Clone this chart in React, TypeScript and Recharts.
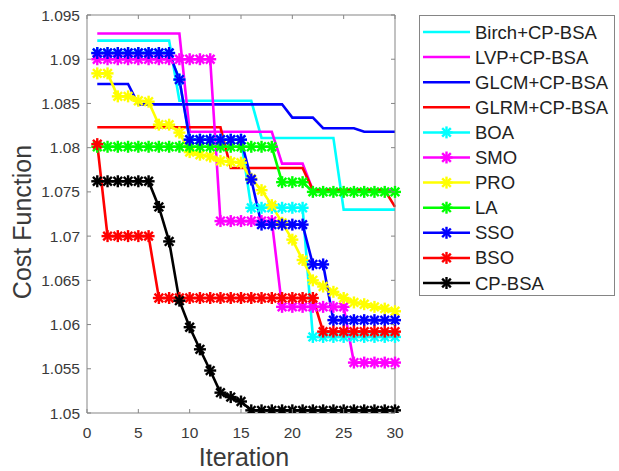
import React from 'react';
import { LineChart, Line, XAxis, YAxis, Label } from 'recharts';

const iterations = [1, 2, 3, 4, 5, 6, 7, 8, 9, 10, 11, 12, 13, 14, 15, 16, 17, 18, 19, 20, 21, 22, 23, 24, 25, 26, 27, 28, 29, 30];

const birchCPBSA = [1.0921, 1.0921, 1.0921, 1.0921, 1.0921, 1.0921, 1.0921, 1.0921, 1.0853, 1.0853, 1.0853, 1.0853, 1.0853, 1.0853, 1.0853, 1.0853, 1.0811, 1.0811, 1.0811, 1.0811, 1.0811, 1.0811, 1.0811, 1.0811, 1.073, 1.073, 1.073, 1.073, 1.073, 1.073];
const lvpCPBSA = [1.0929, 1.0929, 1.0929, 1.0929, 1.0929, 1.0929, 1.0929, 1.0929, 1.0929, 1.0818, 1.0818, 1.0818, 1.0818, 1.0818, 1.0818, 1.0818, 1.0818, 1.0818, 1.0782, 1.0782, 1.0782, 1.0752, 1.0752, 1.0752, 1.0752, 1.0752, 1.0752, 1.0752, 1.0752, 1.0752];
const glcmCPBSA = [1.0872, 1.0872, 1.0872, 1.0872, 1.0849, 1.0849, 1.0849, 1.0849, 1.0849, 1.0849, 1.0849, 1.0849, 1.0849, 1.0849, 1.0849, 1.0849, 1.0849, 1.0849, 1.0849, 1.0834, 1.0834, 1.0834, 1.0822, 1.0822, 1.0822, 1.0822, 1.0818, 1.0818, 1.0818, 1.0818];
const glrmCPBSA = [1.0823, 1.0823, 1.0823, 1.0823, 1.0823, 1.0823, 1.0823, 1.0823, 1.0823, 1.0823, 1.0823, 1.0823, 1.0823, 1.0777, 1.0777, 1.0777, 1.0777, 1.0777, 1.0777, 1.0777, 1.0777, 1.0752, 1.0752, 1.0752, 1.0752, 1.0752, 1.0752, 1.0752, 1.0752, 1.0733];
const boa = [1.0907, 1.0907, 1.0907, 1.0907, 1.0907, 1.0907, 1.0907, 1.0907, 1.0877, 1.0809, 1.0809, 1.0809, 1.0809, 1.0809, 1.0809, 1.0732, 1.0732, 1.0732, 1.0732, 1.0732, 1.0732, 1.0586, 1.0586, 1.0586, 1.0586, 1.0586, 1.0586, 1.0586, 1.0586, 1.0586];
const smo = [1.09, 1.09, 1.09, 1.09, 1.09, 1.09, 1.09, 1.09, 1.09, 1.09, 1.09, 1.09, 1.0717, 1.0717, 1.0717, 1.0717, 1.0717, 1.0717, 1.062, 1.062, 1.062, 1.062, 1.062, 1.062, 1.062, 1.0557, 1.0557, 1.0557, 1.0557, 1.0557];
const pro = [1.0884, 1.0884, 1.0858, 1.0858, 1.0853, 1.0852, 1.0826, 1.0826, 1.0817, 1.0795, 1.0792, 1.079, 1.0785, 1.0784, 1.0783, 1.0765, 1.0752, 1.0735, 1.0715, 1.0696, 1.0673, 1.065, 1.0643, 1.0637, 1.063, 1.0625, 1.0623, 1.062, 1.0618, 1.0615];
const la = [1.0801, 1.0801, 1.0801, 1.0801, 1.0801, 1.0801, 1.0801, 1.0801, 1.0801, 1.0801, 1.0801, 1.0801, 1.0801, 1.0801, 1.0801, 1.0801, 1.0801, 1.0801, 1.0761, 1.0761, 1.0761, 1.075, 1.075, 1.075, 1.075, 1.075, 1.075, 1.075, 1.075, 1.075];
const sso = [1.0907, 1.0907, 1.0907, 1.0907, 1.0907, 1.0907, 1.0907, 1.0907, 1.0877, 1.0809, 1.0809, 1.0809, 1.0809, 1.0809, 1.0809, 1.0764, 1.0713, 1.0713, 1.0713, 1.0713, 1.0713, 1.0668, 1.0668, 1.0605, 1.0605, 1.0605, 1.0605, 1.0605, 1.0605, 1.0605];
const bso = [1.0804, 1.07, 1.07, 1.07, 1.07, 1.07, 1.063, 1.063, 1.063, 1.063, 1.063, 1.063, 1.063, 1.063, 1.063, 1.063, 1.063, 1.063, 1.063, 1.063, 1.063, 1.063, 1.0592, 1.0592, 1.0592, 1.0592, 1.0592, 1.0592, 1.0592, 1.0592];
const cpBSA = [1.0762, 1.0762, 1.0762, 1.0762, 1.0762, 1.0762, 1.0733, 1.0694, 1.0627, 1.0597, 1.0572, 1.0548, 1.0523, 1.0518, 1.0513, 1.0503, 1.0503, 1.0503, 1.0503, 1.0503, 1.0503, 1.0503, 1.0503, 1.0503, 1.0503, 1.0503, 1.0503, 1.0503, 1.0503, 1.0503];

const seriesNames = ['Birch+CP-BSA', 'LVP+CP-BSA', 'GLCM+CP-BSA', 'GLRM+CP-BSA', 'BOA', 'SMO', 'PRO', 'LA', 'SSO', 'BSO', 'CP-BSA'];
const seriesValues = [birchCPBSA, lvpCPBSA, glcmCPBSA, glrmCPBSA, boa, smo, pro, la, sso, bso, cpBSA];
const seriesColors = ['#00FFFF', '#FF00FF', '#0000FF', '#FF0000', '#00FFFF', '#FF00FF', '#FFFF00', '#00FF00', '#0000FF', '#FF0000', '#000000'];
const seriesMarkers = [false, false, false, false, true, true, true, true, true, true, true];

const xTicks = [0, 5, 10, 15, 20, 25, 30];
const yTicks = [1.05, 1.055, 1.06, 1.065, 1.07, 1.075, 1.08, 1.085, 1.09, 1.095];
const yTickLabels = ['1.05', '1.055', '1.06', '1.065', '1.07', '1.075', '1.08', '1.085', '1.09', '1.095'];

const keys = seriesNames.map((_, i) => 's' + i);
const data = iterations.map((it, idx) => {
  const row: any = { iter: it };
  keys.forEach((k, si) => {
    row[k] = seriesValues[si][idx];
  });
  return row;
});

const FONT = '"Liberation Sans", Arial, Helvetica, sans-serif';
const AXIS = '#858585';
const TEXT = '#3a3a3a';

const Asterisk = ({ cx, cy, color, r = 6, sw = 2.4 }: any) => {
  const d = r * 0.72;
  return (
    <g stroke={color} strokeWidth={sw} strokeLinecap="butt">
      <line x1={cx - r} y1={cy} x2={cx + r} y2={cy} />
      <line x1={cx} y1={cy - r} x2={cx} y2={cy + r} />
      <line x1={cx - d} y1={cy - d} x2={cx + d} y2={cy + d} />
      <line x1={cx - d} y1={cy + d} x2={cx + d} y2={cy - d} />
    </g>
  );
};

const makeDot = (color: string) => (props: any) => {
  const { cx, cy, index } = props;
  if (cx == null || cy == null) return <g key={'d' + index} />;
  return <Asterisk key={'d' + index} cx={cx} cy={cy} color={color} />;
};

const BottomTick = (props: any) => {
  const { x, y, payload } = props;
  return (
    <g>
      <line x1={x} y1={y} x2={x} y2={y - 4} stroke={AXIS} strokeWidth={1} />
      <text x={x} y={y + 19} textAnchor="middle" dominantBaseline="central" fontFamily={FONT} fontSize={15.5} fill={TEXT}>
        {payload.value}
      </text>
    </g>
  );
};

const TopTick = (props: any) => {
  const { x, y } = props;
  return <line x1={x} y1={y} x2={x} y2={y + 4} stroke={AXIS} strokeWidth={1} />;
};

const LeftTick = (props: any) => {
  const { x, y, payload } = props;
  const idx = yTicks.findIndex((t) => Math.abs(t - payload.value) < 1e-9);
  const label = idx >= 0 ? yTickLabels[idx] : String(payload.value);
  return (
    <g>
      <line x1={x} y1={y} x2={x + 4} y2={y} stroke={AXIS} strokeWidth={1} />
      <text x={x - 7} y={y} textAnchor="end" dominantBaseline="central" fontFamily={FONT} fontSize={15.5} fill={TEXT}>
        {label}
      </text>
    </g>
  );
};

const RightTick = (props: any) => {
  const { x, y } = props;
  return <line x1={x} y1={y} x2={x - 4} y2={y} stroke={AXIS} strokeWidth={1} />;
};

const YLabel = (props: any) => {
  const vb = props.viewBox;
  const cx = vb.x + 22;
  const cy = vb.y + vb.height / 2 + 8;
  return (
    <text x={cx} y={cy} transform={`rotate(-90, ${cx}, ${cy})`} textAnchor="middle" dominantBaseline="central" fontFamily={FONT} fontSize={25} fill={TEXT}>
      Cost Function
    </text>
  );
};

const XLabel = (props: any) => {
  const vb = props.viewBox;
  const cx = vb.x + vb.width / 2 + 3;
  const cy = vb.y + 44;
  return (
    <text x={cx} y={cy} textAnchor="middle" dominantBaseline="central" fontFamily={FONT} fontSize={25} fill={TEXT}>
      Iteration
    </text>
  );
};

const LegendBox = () => {
  const rowH = 25.1;
  return (
    <div
      style={{
        position: 'absolute',
        left: 419,
        top: 15,
        width: 196,
        height: 281,
        border: `1px solid ${AXIS}`,
        boxSizing: 'border-box',
        background: '#fff',
      }}
    >
      <svg width={194} height={279} style={{ display: 'block' }}>
        {seriesNames.map((name, i) => {
          const y = 16 + i * rowH;
          return (
            <g key={name}>
              <line x1={3} y1={y} x2={50} y2={y} stroke={seriesColors[i]} strokeWidth={2.5} />
              {seriesMarkers[i] && <Asterisk cx={26.5} cy={y} color={seriesColors[i]} />}
              <text x={55} y={y} dominantBaseline="central" fontFamily={FONT} fontSize={18.5} fill="#222">
                {name}
              </text>
            </g>
          );
        })}
      </svg>
    </div>
  );
};

export default function App() {
  return (
    <div style={{ position: 'absolute', left: 0, top: 0, width: 619, height: 471, background: '#fff' }}>
      <LineChart width={619} height={471} data={data} margin={{ top: 0, right: 214, bottom: 0, left: 0 }}>
        <XAxis
          xAxisId="bottom"
          dataKey="iter"
          type="number"
          domain={[0, 30]}
          ticks={xTicks}
          height={58}
          tickSize={0}
          tickMargin={0}
          tickLine={false}
          axisLine={{ stroke: AXIS, strokeWidth: 1 }}
          tick={<BottomTick />}
          interval={0}
        >
          <Label content={<XLabel />} />
        </XAxis>
        <XAxis
          xAxisId="top"
          orientation="top"
          dataKey="iter"
          type="number"
          domain={[0, 30]}
          ticks={xTicks}
          height={15}
          tickSize={0}
          tickMargin={0}
          tickLine={false}
          axisLine={{ stroke: AXIS, strokeWidth: 1 }}
          tick={<TopTick />}
          interval={0}
        />
        <YAxis
          yAxisId="left"
          type="number"
          domain={[1.05, 1.095]}
          ticks={yTicks}
          width={87}
          tickSize={0}
          tickMargin={0}
          tickLine={false}
          axisLine={{ stroke: AXIS, strokeWidth: 1 }}
          tick={<LeftTick />}
          interval={0}
          allowDataOverflow
        >
          <Label content={<YLabel />} />
        </YAxis>
        <YAxis
          yAxisId="right"
          orientation="right"
          type="number"
          domain={[1.05, 1.095]}
          ticks={yTicks}
          width={10}
          tickSize={0}
          tickMargin={0}
          tickLine={false}
          axisLine={{ stroke: AXIS, strokeWidth: 1 }}
          tick={<RightTick />}
          interval={0}
          allowDataOverflow
        />
        {keys.map((k, i) => (
          <Line
            key={k}
            xAxisId="bottom"
            yAxisId="left"
            type="linear"
            dataKey={k}
            name={seriesNames[i]}
            stroke={seriesColors[i]}
            strokeWidth={2.6}
            dot={seriesMarkers[i] ? makeDot(seriesColors[i]) : false}
            activeDot={false}
            isAnimationActive={false}
          />
        ))}
      </LineChart>
      <LegendBox />
    </div>
  );
}
